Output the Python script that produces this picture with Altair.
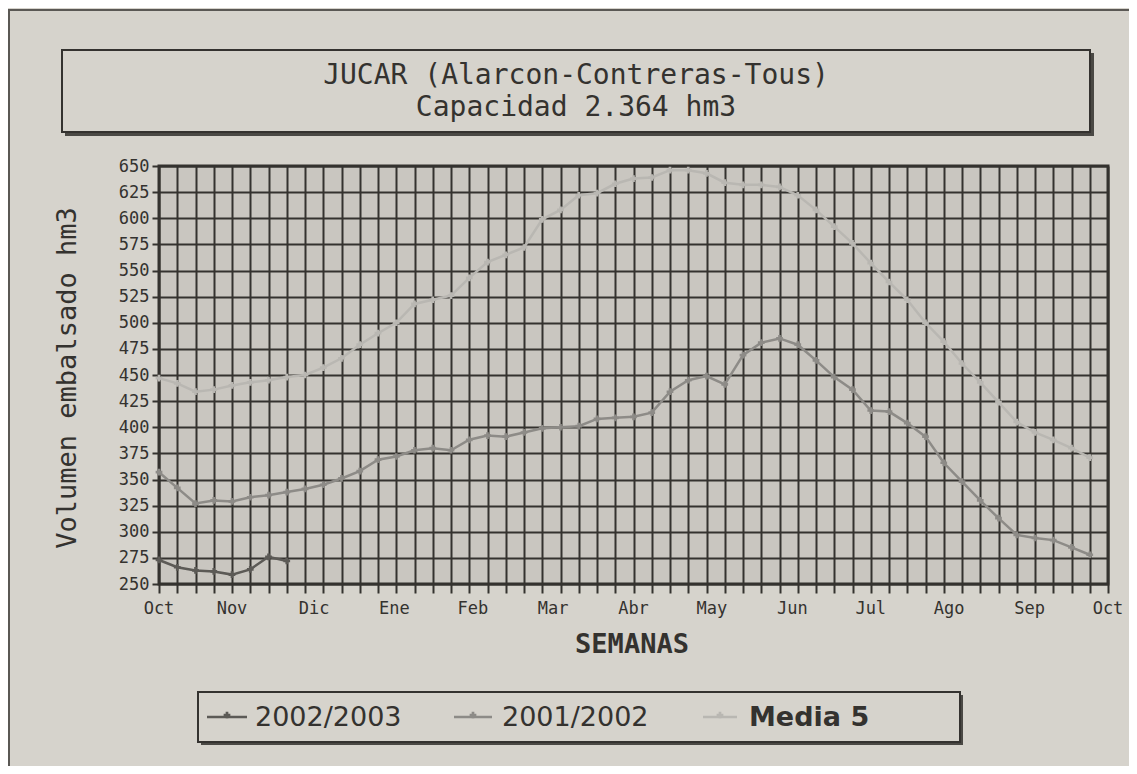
import altair as alt
import pandas as pd

# ---------------- data ----------------
series_names = ["2002/2003", "2001/2002", "Media 5"]
series_colors = ["#5c5a56", "#8d8b87", "#b9b7b2"]

weeks_2002_2003 = [0, 1, 2, 3, 4, 5, 6, 7]
vals_2002_2003 = [273, 266, 263, 262, 259, 264, 276, 272]

weeks_2001_2002 = list(range(52))
vals_2001_2002 = [357, 342, 327, 330, 329, 333, 335, 338, 341, 345,
                  351, 358, 369, 372, 378, 380, 378, 388, 392, 391,
                  395, 399, 400, 401, 408, 409, 410, 414, 434, 445,
                  449, 441, 469, 481, 485, 479, 464, 448, 436, 416,
                  415, 404, 391, 366, 348, 330, 313, 297, 294, 292,
                  285, 278]

weeks_media = list(range(52))
vals_media = [447, 442, 434, 436, 440, 443, 445, 448, 450, 457,
              466, 479, 490, 500, 518, 522, 526, 543, 558, 565,
              572, 599, 608, 622, 624, 633, 638, 639, 646, 646,
              643, 634, 632, 632, 630, 622, 608, 592, 576, 557,
              539, 522, 500, 482, 461, 443, 424, 405, 395, 388,
              380, 371]

months = ["Oct", "Nov", "Dic", "Ene", "Feb", "Mar", "Abr", "May",
          "Jun", "Jul", "Ago", "Sep", "Oct"]
month_weeks = [0, 4.0, 8.5, 12.9, 17.2, 21.6, 26.0, 30.3, 34.7, 39.0,
               43.3, 47.7, 52.0]

y_ticks = list(range(250, 651, 25))
x_ticks = list(range(0, 53))

title_lines = ["JUCAR (Alarcon-Contreras-Tous)", "Capacidad 2.364 hm3"]
y_title = "Volumen embalsado hm3"
x_title = "SEMANAS"

# ---------------- styling ----------------
PAPER = "#d6d3cc"
PLOT = "#c9c6c0"
DARK = "#34322f"
MONO = "DejaVu Sans Mono"
W, H = 949, 418

rows = []
for name, wk, vals in [(series_names[0], weeks_2002_2003, vals_2002_2003),
                       (series_names[1], weeks_2001_2002, vals_2001_2002),
                       (series_names[2], weeks_media, vals_media)]:
    for w, v in zip(wk, vals):
        rows.append({"semana": w, "volumen": v, "serie": name})
df = pd.DataFrame(rows)
month_df = pd.DataFrame({"semana": month_weeks, "mes": months})
one = pd.DataFrame({"a": [0]})

x_enc = alt.X("semana:Q",
              scale=alt.Scale(domain=[0, 52], nice=False, zero=False),
              axis=alt.Axis(values=x_ticks, labels=False, ticks=True, tickSize=9,
                            tickColor=DARK, tickWidth=2, grid=True, gridColor=DARK,
                            gridWidth=2, gridOpacity=1, domain=False, title=None))
y_enc = alt.Y("volumen:Q",
              scale=alt.Scale(domain=[250, 650], nice=False, zero=False),
              axis=alt.Axis(values=y_ticks, grid=True, gridColor=DARK, gridWidth=2,
                            gridOpacity=1, tickSize=7, tickColor=DARK, tickWidth=2,
                            labelFont=MONO, labelFontSize=17, labelColor=DARK,
                            labelPadding=3, domain=False, title=None))

color_enc = alt.Color("serie:N", scale=alt.Scale(domain=series_names, range=series_colors),
                      legend=None)

lines = alt.Chart(df).mark_line(
    strokeWidth=2.5,
    point=alt.OverlayMarkDef(shape="cross", size=45, filled=True)
).encode(x=x_enc, y=y_enc, color=color_enc, order="semana:Q")

month_labels = alt.Chart(month_df).mark_text(
    font=MONO, fontSize=17, color=DARK, baseline="middle"
).encode(x=x_enc, y=alt.value(H + 25), text="mes:N")

ytitle = alt.Chart(one).mark_text(
    text=y_title, font=MONO, fontSize=27, angle=270, color=DARK, baseline="middle"
).encode(x=alt.value(-91), y=alt.value(212))

xtitle = alt.Chart(one).mark_text(
    text=x_title, font=MONO, fontSize=27, fontWeight="bold", color=DARK, baseline="middle"
).encode(x=alt.value(473), y=alt.value(479))

# title box
tbox_shadow = alt.Chart(one).mark_rect(fill="#4a4844").encode(
    x=alt.value(-94), x2=alt.value(935), y=alt.value(-113), y2=alt.value(-30))
tbox = alt.Chart(one).mark_rect(fill=PAPER, stroke=DARK, strokeWidth=2).encode(
    x=alt.value(-97), x2=alt.value(931), y=alt.value(-116), y2=alt.value(-34))
t1 = alt.Chart(one).mark_text(text=title_lines[0], font=MONO, fontSize=28, color=DARK,
                              baseline="middle").encode(x=alt.value(417), y=alt.value(-90))
t2 = alt.Chart(one).mark_text(text=title_lines[1], font=MONO, fontSize=28, color=DARK,
                              baseline="middle").encode(x=alt.value(417), y=alt.value(-58))

# legend box
lbox_shadow = alt.Chart(one).mark_rect(fill="#4a4844").encode(
    x=alt.value(42), x2=alt.value(804), y=alt.value(529), y2=alt.value(579))
lbox = alt.Chart(one).mark_rect(fill=PAPER, stroke=DARK, strokeWidth=2).encode(
    x=alt.value(39), x2=alt.value(801), y=alt.value(526), y2=alt.value(576))

legend_layers = []
item_line_x = [(48, 88), (295, 333), (544, 578)]
item_text_x = [96, 343, 590]
for i, name in enumerate(series_names):
    x0, x1 = item_line_x[i]
    legend_layers.append(alt.Chart(one).mark_rule(color=series_colors[i], strokeWidth=2.5).encode(
        x=alt.value(x0), x2=alt.value(x1), y=alt.value(551)))
    legend_layers.append(alt.Chart(one).mark_point(shape="cross", size=45, filled=True,
                                                   color=series_colors[i], opacity=1).encode(
        x=alt.value((x0 + x1) / 2), y=alt.value(549)))
    legend_layers.append(alt.Chart(one).mark_text(
        text=name, font="DejaVu Sans", fontSize=27, align="left", baseline="middle",
        color=DARK, fontWeight="bold" if i == 2 else "normal").encode(
        x=alt.value(item_text_x[i]), y=alt.value(552)))

# outer frame
frame_top = alt.Chart(one).mark_rule(color="#5a5854", strokeWidth=2).encode(
    x=alt.value(-151), x2=alt.value(970), y=alt.value(-156))
frame_left = alt.Chart(one).mark_rule(color="#5a5854", strokeWidth=2).encode(
    x=alt.value(-150), y=alt.value(-156), y2=alt.value(600))

chart = alt.layer(
    frame_top, frame_left, tbox_shadow, tbox, t1, t2,
    lines, month_labels, ytitle, xtitle,
    lbox_shadow, lbox, *legend_layers
).properties(
    width=W, height=H,
    background=PAPER,
    padding={"left": 151, "top": 158, "right": 21, "bottom": 182},
    autosize=alt.AutoSizeParams(type="none"),
).configure_view(
    fill=PLOT, stroke=DARK, strokeWidth=3
)

chart.save("out.html", embed_options={"renderer": "svg", "actions": False})
